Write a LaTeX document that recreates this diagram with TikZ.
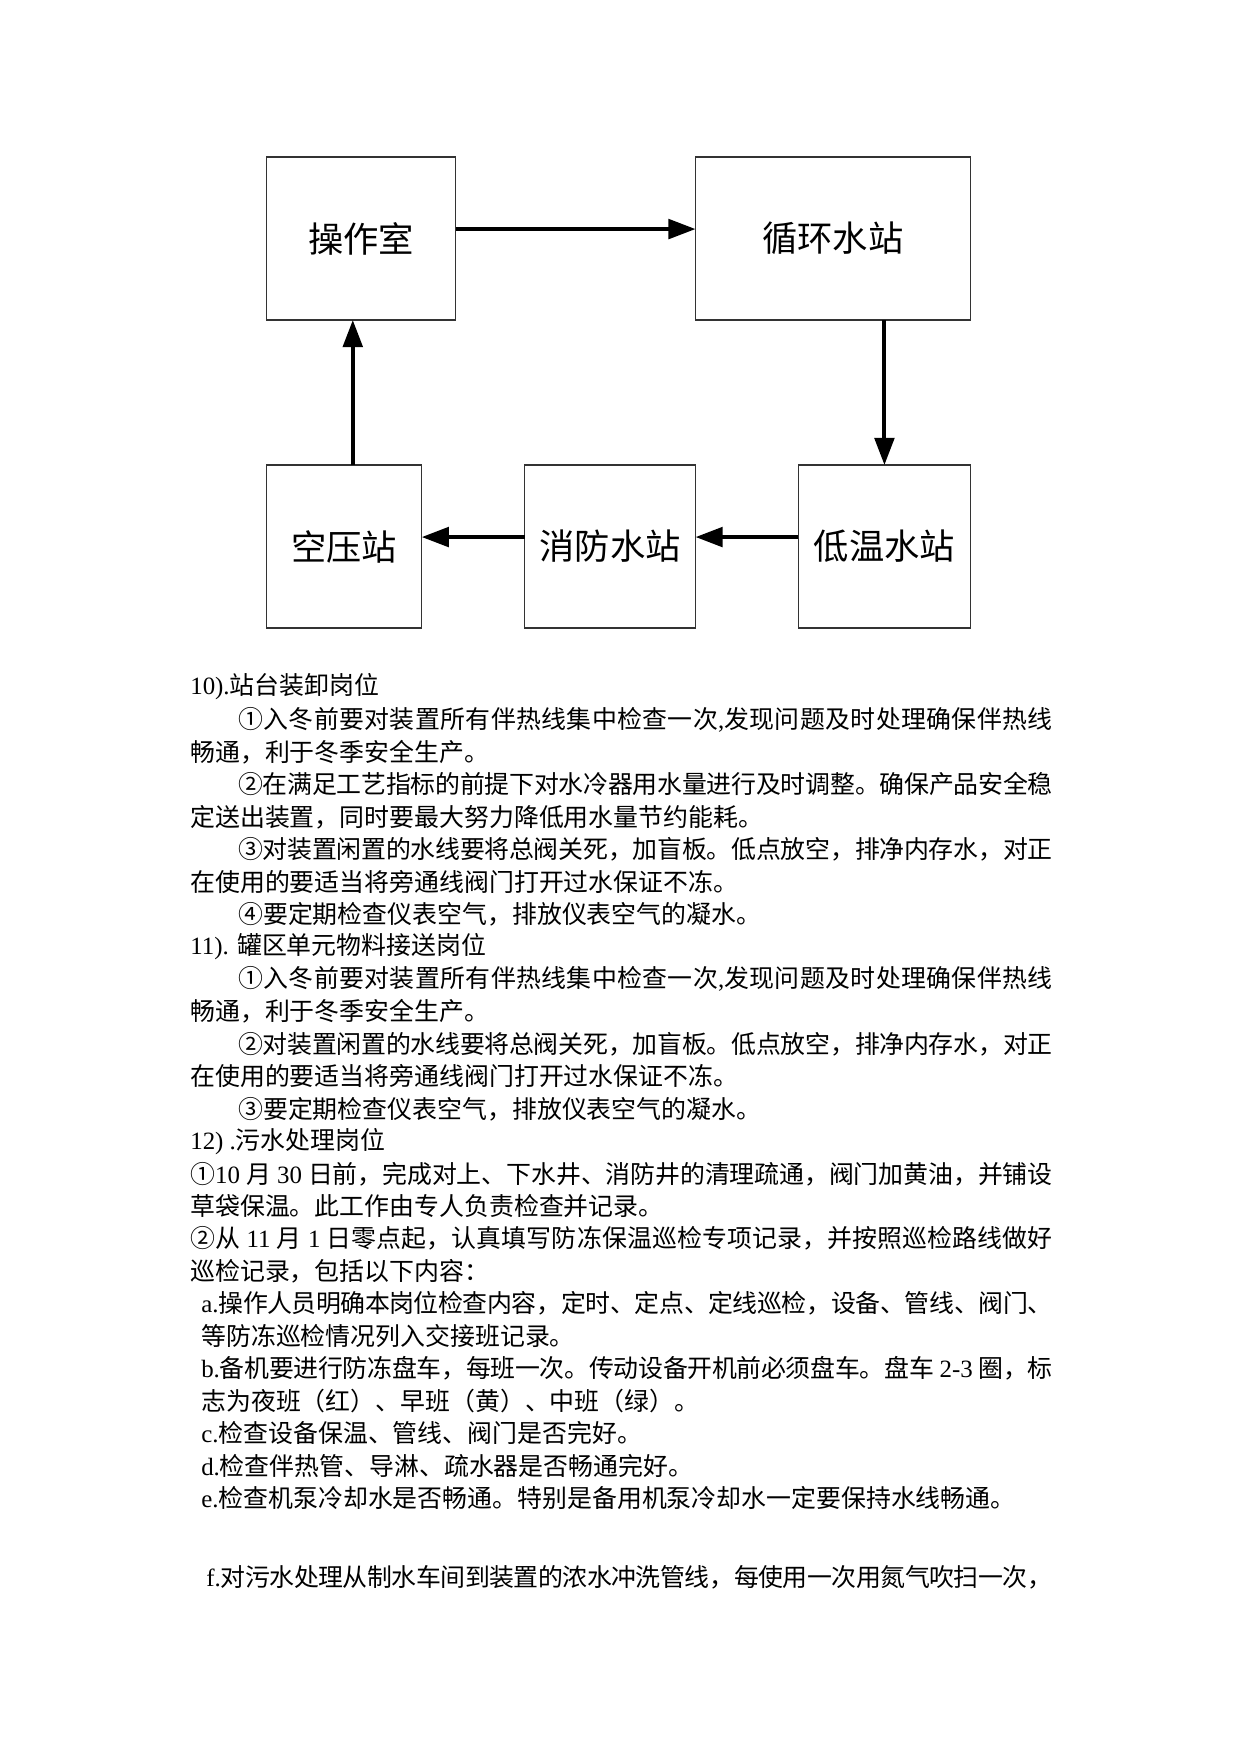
\documentclass[tikz,border=0pt]{standalone}
\usepackage{fontspec}
\setmainfont{Liberation Serif}
\newfontfamily\cjk{Noto Sans CJK SC}
\usetikzlibrary{arrows.meta}
\XeTeXlinebreaklocale "zh"
\XeTeXlinebreakskip=0pt plus 3pt minus 0.6pt
\newcommand\lat[1]{{\rmfamily #1}}
\newcommand\fullline[2]{\parbox{#1}{\parfillskip=0pt\relax #2}}
\tikzset{station/.style={draw=black!80,line width=0.6pt,inner sep=0,outer sep=0,minimum height=27.6mm,font=\cjk\fontsize{17}{20}\selectfont},
         flow/.style={line width=1.9pt,-{Triangle[length=4.6mm,width=3.3mm]}},
         txtline/.style={anchor=west,inner sep=0,font=\cjk\fontsize{12}{14}\selectfont}
}

\begin{document}
\begin{tikzpicture}[x=0.16922mm,y=-0.16933mm]
  \useasboundingbox (0,0) rectangle (1241,1754);
  \node[station,minimum width=31.98mm](czs) at (361.5,238.5){操作室};
  \node[station,minimum width=46.54mm](xhs) at (833.5,238.5){循环水站};
  \node[station,minimum width=26.23mm](kys) at (344.5,546.5){空压站};
  \node[station,minimum width=28.94mm](xfs) at (610.5,546.5){消防水站};
  \node[station,minimum width=29.11mm](dws) at (885,546.5){低温水站};
  \draw[flow]([yshift=1.6mm]czs.east)--([yshift=1.6mm]xhs.west);
  \draw[flow](xhs.south -| dws.north)--(dws.north);
  \draw[flow]([yshift=1.6mm]dws.west)--([yshift=1.6mm]xfs.east);
  \draw[flow]([yshift=1.6mm]xfs.west)--([yshift=1.6mm]kys.east);
  \draw[flow]([xshift=1.44mm]kys.north)--([xshift=1.44mm]kys.north |- czs.south);
  % n / x / full width (mm, 0 = natural) / text
  \foreach\n/\x/\w/\txt in {
     0/190/0/{\lat{10).}站台装卸岗位},
     1/238/137.9/{①入冬前要对装置所有伴热线集中检查一次\lat{,}发现问题及时处理确保伴热线},
     2/190/0/{畅通，利于冬季安全生产。},
     3/238/137.9/{②在满足工艺指标的前提下对水冷器用水量进行及时调整。确保产品安全稳},
     4/190/0/{定送出装置，同时要最大努力降低用水量节约能耗。},
     5/238/137.9/{③对装置闲置的水线要将总阀关死，加盲板。低点放空，排净内存水，对正},
     6/190/0/{在使用的要适当将旁通线阀门打开过水保证不冻。},
     7/238/0/{④要定期检查仪表空气，排放仪表空气的凝水。},
     8/190/0/{\lat{11). }罐区单元物料接送岗位},
     9/238/137.9/{①入冬前要对装置所有伴热线集中检查一次\lat{,}发现问题及时处理确保伴热线},
     10/190/0/{畅通，利于冬季安全生产。},
     11/238/137.9/{②对装置闲置的水线要将总阀关死，加盲板。低点放空，排净内存水，对正},
     12/190/0/{在使用的要适当将旁通线阀门打开过水保证不冻。},
     13/238/0/{③要定期检查仪表空气，排放仪表空气的凝水。},
     14/190/0/{\lat{12) .}污水处理岗位},
     15/190/146.0/{①\lat{10 }月\lat{ 30 }日前，完成对上、下水井、消防井的清理疏通，阀门加黄油，并铺设},
     16/190/0/{草袋保温。此工作由专人负责检查并记录。},
     17/190/146.0/{②从\lat{ 11 }月\lat{ 1 }日零点起，认真填写防冻保温巡检专项记录，并按照巡检路线做好},
     18/190/0/{巡检记录，包括以下内容：},
     19/201/144.2/{\lat{a.}操作人员明确本岗位检查内容，定时、定点、定线巡检，设备、管线、阀门、},
     20/201/0/{等防冻巡检情况列入交接班记录。},
     21/201/144.2/{\lat{b.}备机要进行防冻盘车，每班一次。传动设备开机前必须盘车。盘车\lat{ 2-3 }圈，标},
     22/201/0/{志为夜班（红）、早班（黄）、中班（绿）。},
     23/201/0/{\lat{c.}检查设备保温、管线、阀门是否完好。},
     24/201/0/{\lat{d.}检查伴热管、导淋、疏水器是否畅通完好。},
     25/201/0/{\lat{e.}检查机泵冷却水是否畅通。特别是备用机泵冷却水一定要保持水线畅通。}} {
     \ifdim\w pt=0pt \node[txtline](ln\n) at (\x,687+32.45*\n){\txt};
     \else \node[txtline](ln\n) at (\x,687+32.45*\n){\fullline{\w mm}{\txt}};\fi
  }
  \node[txtline](lnf) at (206,1577){\fullline{143.3mm}{\lat{f.}对污水处理从制水车间到装置的浓水冲洗管线，每使用一次用氮气吹扫一次，}};
\end{tikzpicture}
\end{document}
